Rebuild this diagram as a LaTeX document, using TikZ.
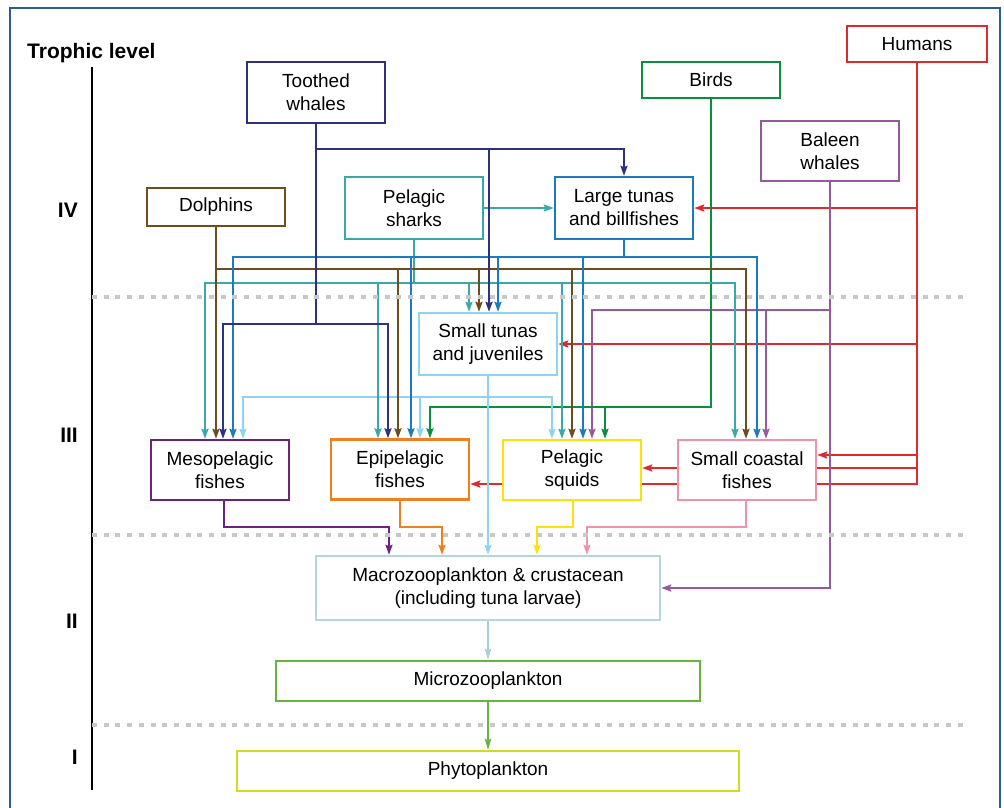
\documentclass[tikz,border=0pt]{standalone}
\usepackage{fontspec}
\setmainfont{Liberation Sans}
\usetikzlibrary{arrows.meta}
\pgfdeclarelayer{bg}
\pgfsetlayers{bg,main}
\definecolor{cnavy}{HTML}{2E3182}
\definecolor{cbrown}{HTML}{6D4C1F}
\definecolor{cteal}{HTML}{3AA7A9}
\definecolor{cblue}{HTML}{1A7BC1}
\definecolor{clblue}{HTML}{8DD3F3}
\definecolor{cgreen}{HTML}{0A8F3E}
\definecolor{cpurple}{HTML}{955A9E}
\definecolor{cred}{HTML}{DD2A2E}
\definecolor{cdpurple}{HTML}{6C2380}
\definecolor{corange}{HTML}{F0801F}
\definecolor{cyellow}{HTML}{FFE10A}
\definecolor{cpink}{HTML}{F093AA}
\definecolor{cmacro}{HTML}{B5D5E6}
\definecolor{cmacroarr}{HTML}{A9CCE0}
\definecolor{cmicro}{HTML}{6AB43E}
\definecolor{cphyto}{HTML}{D4DA1F}
\definecolor{cframe}{HTML}{2D5B98}
\definecolor{cdash}{HTML}{C8C8C8}
\newcommand\nodefont{\fontsize{19}{23}\selectfont}
\newcommand\lvlfont{\fontsize{21}{25}\selectfont\bfseries}
\tikzset{
  box/.style={draw=#1, line width=2.4pt, fill=white, align=center, inner sep=0pt, font=\nodefont},
  con/.style={draw=#1, line width=2pt},
  arr/.style={con=#1, -{Stealth[length=10pt,width=7pt,inset=1.5pt]}},
  arrs/.style={con=#1, {Stealth[length=10pt,width=7pt,inset=1.5pt]}-{Stealth[length=10pt,width=7pt,inset=1.5pt]}},
  thinarr/.style={draw=#1, line width=1.7pt, -{Stealth[length=11pt,width=6.5pt,inset=1.5pt]}},
  lvl/.style={font=\lvlfont, anchor=base east, inner sep=0pt},
  sep/.style={draw=cdash, line width=3.5pt, dash pattern=on 5pt off 6.7pt},
}
\begin{document}
\begin{tikzpicture}[x=1pt,y=-1pt]
\useasboundingbox (0,0) rectangle (1004,807);
\draw[cframe, line width=2.5pt] (10,8) rectangle (1000,830);

% trophic axis
\node[font=\lvlfont, anchor=base west, inner sep=0pt] (tl) at (27,58) {Trophic level};
\draw[black, line width=2.8pt] (92,67) -- (92,790);
\node[lvl] (l4) at (78,217) {IV};
\node[lvl] (l3) at (78,442) {III};
\node[lvl] (l2) at (78,628) {II};
\node[lvl] (l1) at (78,764) {I};
\draw[sep] (92,297) -- (966,297);
\draw[sep] (92,535) -- (966,535);
\draw[sep] (92,725) -- (966,725);

% nodes
\node[box=cnavy, minimum width=138pt, minimum height=61pt] (tw) at (316,92.5) {Toothed\\whales};
\node[box=cgreen, minimum width=138pt, minimum height=36pt] (bi) at (711,80) {Birds};
\node[box=cred, minimum width=140pt, minimum height=36pt] (hu) at (917,44) {Humans};
\node[box=cpurple, minimum width=138pt, minimum height=60pt] (ba) at (830,151) {Baleen\\whales};
\node[box=cbrown, minimum width=138pt, minimum height=38pt] (dol) at (216,207) {Dolphins};
\node[box=cteal, minimum width=138pt, minimum height=62pt] (sh) at (414,208) {Pelagic\\sharks};
\node[box=cblue, minimum width=138pt, minimum height=62pt] (lt) at (624,208) {Large tunas\\and billfishes};
\node[box=clblue, minimum width=138pt, minimum height=62pt] (st) at (488,344) {Small tunas\\and juveniles};
\node[box=cdpurple, minimum width=138pt, minimum height=60pt] (meso) at (220,470) {Mesopelagic\\fishes};
\node[box=corange, minimum width=138pt, minimum height=60pt] (epi) at (400,469.5) {Epipelagic\\fishes};
\node[box=cyellow, minimum width=138pt, minimum height=60pt] (sq) at (572,470) {Pelagic\\squids};
\node[box=cpink, minimum width=138pt, minimum height=60pt] (co) at (747,470) {Small coastal\\fishes};
\node[box=cmacro, minimum width=344pt, minimum height=64pt] (mac) at (488,588) {Macrozooplankton \& crustacean\\(including tuna larvae)};
\node[box=cmicro, minimum width=424pt, minimum height=40pt] (mic) at (488,681) {Microzooplankton};
\node[box=cphyto, minimum width=502pt, minimum height=40pt] (phy) at (488,771) {Phytoplankton};

% junction points
\coordinate (hu1) at (hu.south |- lt.east);
\coordinate (hu2) at (hu.south |- st.east);
\coordinate (hu3) at (hu.south |- 0,455);
\coordinate (hu4) at (hu.south |- 0,468);
\coordinate (ba1) at (766,310);
\coordinate (bi1) at (605,407);
\coordinate (st1) at (420,397);
\coordinate (sh0) at (sh.south |- 0,283);
\coordinate (sh1) at (378,283);
\coordinate (sh2) at (469,283);
\coordinate (sh3) at (562,283);
\coordinate (do1) at (398,269);
\coordinate (do2) at (479,269);
\coordinate (do3) at (572,269);
\coordinate (lt0) at (lt.south |- 0,257);
\coordinate (lt1) at (411,257);
\coordinate (lt2) at (498,257);
\coordinate (lt3) at (583,257);
\coordinate (tw1) at (tw.south |- 0,149);
\coordinate (tw2) at (tw.south |- 0,324);
\coordinate (tw3) at (489,149);

\begin{pgfonlayer}{bg}
% red (humans)
\draw[arr=cred] (hu.south) |- (epi.east |- 0,484);
\draw[arr=cred] (hu1) -- (lt.east);
\draw[arr=cred] (hu2) -- (st.east);
\draw[arr=cred] (hu3) -- (co.east |- hu3);
\draw[arr=cred] (hu4) -- (sq.east |- hu4);
% purple (baleen whales)
\draw[arr=cpurple] (ba.south) |- (mac.east);
\draw[arr=cpurple] (ba.south |- 0,310) -| (592,0 |- sq.north);
\draw[arr=cpurple] (ba1) -- (ba1 |- co.north);
% green (birds)
\draw[arr=cgreen] (bi.south) -- (bi.south |- 0,407) -| (430,0 |- epi.north);
\draw[arr=cgreen] (bi1) -- (bi1 |- sq.north);
% light blue (small tunas)
\draw[arr=clblue] (st.south) -- (st.south |- mac.north);
\draw[arrs=clblue] (243,0 |- meso.north) |- (552,397) -- (552,0 |- sq.north);
\draw[arr=clblue] (st1) -- (st1 |- epi.north);
% teal (pelagic sharks)
\draw[arr=cteal] (sh.east) -- (lt.west);
\draw[con=cteal] (sh.south) -- (sh0);
\draw[arrs=cteal] (205,0 |- meso.north) |- (735,283) -- (735,0 |- co.north);
\draw[arr=cteal] (sh1) -- (sh1 |- epi.north);
\draw[arr=cteal] (sh2) -- (sh2 |- st.north);
\draw[arr=cteal] (sh3) -- (sh3 |- sq.north);
% brown (dolphins)
\draw[arr=cbrown] (dol.south) -- (dol.south |- meso.north);
\draw[arr=cbrown] (dol.south |- 0,269) -| (746,0 |- co.north);
\draw[arr=cbrown] (do1) -- (do1 |- epi.north);
\draw[arr=cbrown] (do2) -- (do2 |- st.north);
\draw[arr=cbrown] (do3) -- (do3 |- sq.north);
% blue (large tunas)
\draw[con=cblue] (lt.south) -- (lt0);
\draw[arrs=cblue] (233,0 |- meso.north) |- (757,257) -- (757,0 |- co.north);
\draw[arr=cblue] (lt1) -- (lt1 |- epi.north);
\draw[arr=cblue] (lt2) -- (lt2 |- st.north);
\draw[arr=cblue] (lt3) -- (lt3 |- sq.north);
% navy (toothed whales)
\draw[arr=cnavy] (tw.south) -- (tw1) -| (lt.north);
\draw[con=cnavy] (tw1) -- (tw2);
\draw[arrs=cnavy] (223,0 |- meso.north) |- (388,324) -- (388,0 |- epi.north);
\draw[arr=cnavy] (tw3) -- (tw3 |- st.north);
% level III to level II
\draw[arr=cdpurple] (224,0 |- meso.south) -- (224,527) -| (389,0 |- mac.north);
\draw[arr=corange] (epi.south) -- (epi.south |- 0,527) -| (442,0 |- mac.north);
\draw[arr=cyellow] (573,0 |- sq.south) -- (573,527) -| (537,0 |- mac.north);
\draw[arr=cpink] (746,0 |- co.south) -- (746,527) -| (587,0 |- mac.north);
% lower levels
\draw[thinarr=cmacroarr] (mac.south) -- (mic.north);
\draw[thinarr=cmicro] (mic.south) -- (phy.north);
\end{pgfonlayer}
\end{tikzpicture}
\end{document}
